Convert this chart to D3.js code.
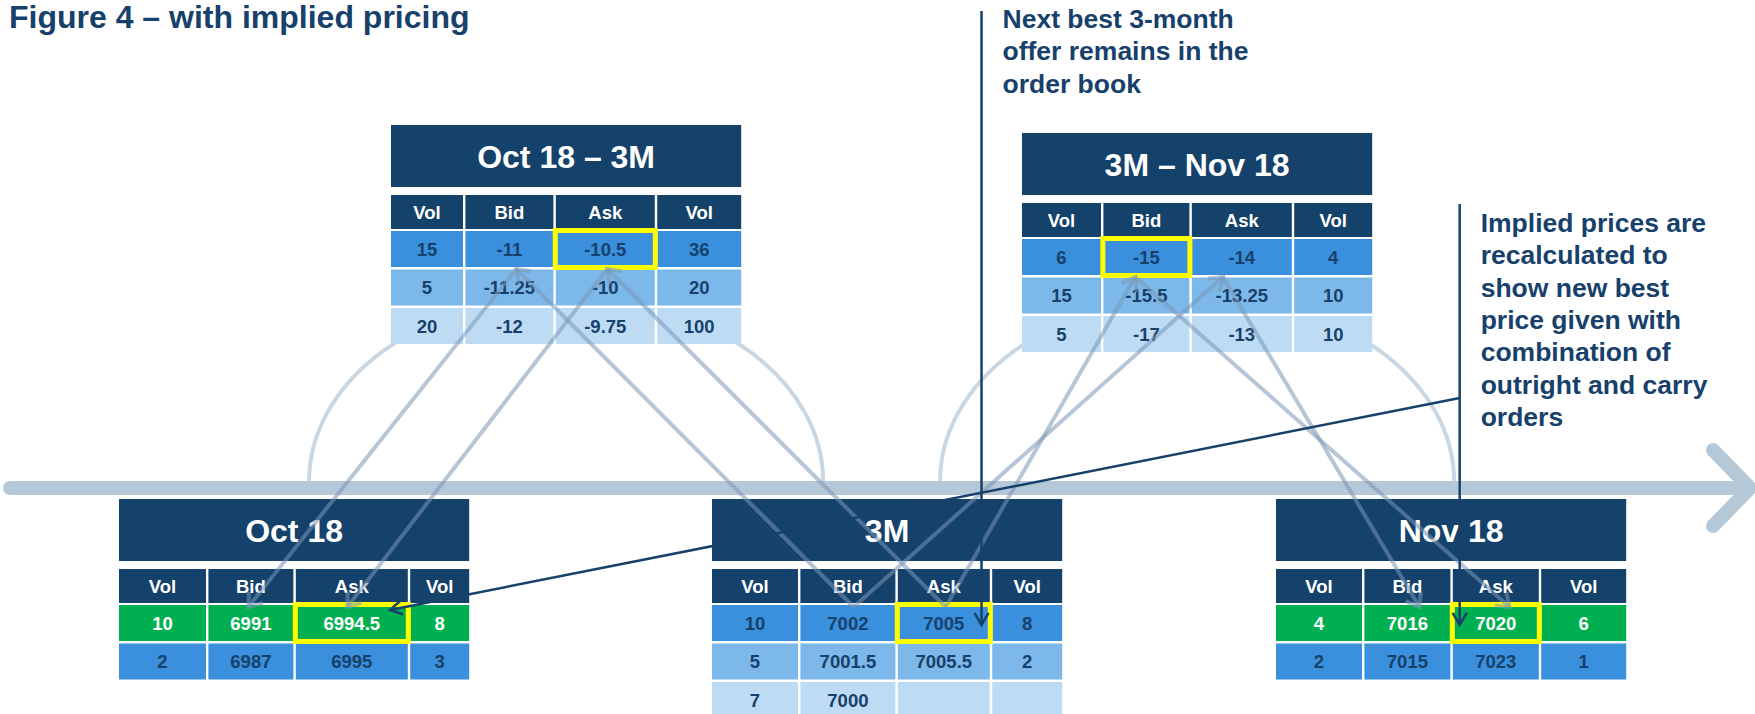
<!DOCTYPE html>
<html>
<head>
<meta charset="utf-8">
<script src="https://cdn.jsdelivr.net/npm/d3@7"></script>
<style>
  body { margin: 0; background: #fff; }
  text { font-family: "Liberation Sans", Arial, sans-serif; font-weight: bold; }
</style>
</head>
<body>
<div id="chart"></div>
<script>
// ---- data ----
const figTitle = "Figure 4 – with implied pricing";
const colLabels = ["Vol", "Bid", "Ask", "Vol"];
const tableNames = ["Oct 18 – 3M", "3M – Nov 18", "Oct 18", "3M", "Nov 18"];

const oct3mRows = [[15, -11, -10.5, 36], [5, -11.25, -10, 20], [20, -12, -9.75, 100]];
const m3novRows = [[6, -15, -14, 4], [15, -15.5, -13.25, 10], [5, -17, -13, 10]];
const oct18Rows = [[10, 6991, 6994.5, 8], [2, 6987, 6995, 3]];
const m3Rows    = [[10, 7002, 7005, 8], [5, 7001.5, 7005.5, 2], [7, 7000, null, null]];
const nov18Rows = [[4, 7016, 7020, 6], [2, 7015, 7023, 1]];

// rows filled by implied prices (green)
const impliedRows = [["Oct 18", 0], ["Nov 18", 0]];
// highlighted cells [table, row, column]
const highlights = [["Oct 18 – 3M", 0, "Ask"], ["3M – Nov 18", 0, "Bid"], ["Oct 18", 0, "Ask"], ["3M", 0, "Ask"], ["Nov 18", 0, "Ask"]];
// implied paths: outright leg -> spread -> implied outright
const impliedLinks = [
  ["3M", "Bid", "Oct 18 – 3M", "Bid", "Oct 18", "Bid"],
  ["3M", "Ask", "Oct 18 – 3M", "Ask", "Oct 18", "Ask"],
  ["3M", "Bid", "3M – Nov 18", "Ask", "Nov 18", "Bid"],
  ["3M", "Ask", "3M – Nov 18", "Bid", "Nov 18", "Ask"]
];
const noteNext = ["Next best 3-month", "offer remains in the", "order book"];
const noteImplied = ["Implied prices are", "recalculated to", "show new best", "price given with", "combination of", "outright and carry", "orders"];

// ---- layout ----
const width = 1755, height = 714;
const navy = "#17416b", headFill = "#15426b";
const blues = ["#3a90dc", "#7db8ea", "#bddcf4"];
const green = "#00b050", yellow = "#ffff00";
const lightLine = "rgb(122,151,181)";
const gap = 2.4;

const layout = {
  "Oct 18 – 3M": { x: 391, y: 125, cols: [72, 88, 99, 84], anchor: { Bid: 0.58, Ask: 0.52 } },
  "3M – Nov 18": { x: 1022, y: 133, cols: [79, 86, 100, 78], anchor: { Bid: 0.37, Ask: 0.31 } },
  "Oct 18":      { x: 119, y: 499, cols: [87, 85, 112, 59], anchor: { Bid: 0.47, Ask: 0.46 } },
  "3M":          { x: 712, y: 499, cols: [86, 95, 92, 70], anchor: { Bid: 0.56, Ask: 0.52 } },
  "Nov 18":      { x: 1276, y: 499, cols: [86, 86, 86, 85], anchor: { Bid: 0.64, Ask: 0.66 } }
};
const rowsByName = { "Oct 18 – 3M": oct3mRows, "3M – Nov 18": m3novRows, "Oct 18": oct18Rows, "3M": m3Rows, "Nov 18": nov18Rows };

const tables = tableNames.map(name => {
  const t = Object.assign({ name: name, rows: rowsByName[name] }, layout[name]);
  let cx = t.x;
  t.colPos = t.cols.map(w => { const p = cx; cx += w + gap; return p; });
  t.w = d3.sum(t.cols) + gap * (t.cols.length - 1);
  t.rowY = d3.scaleLinear().domain([0, 1]).range([t.y + 106, t.y + 144.5]); // row top
  t.spread = name.includes("–");
  return t;
});
const byName = Object.fromEntries(tables.map(t => [t.name, t]));

const svg = d3.select("#chart")
  .append("svg")
  .attr("width", width)
  .attr("height", height)
  .attr("viewBox", [0, 0, width, height]);

// timeline scale
const tx = d3.scaleLinear().domain([0, 1]).range([10, 1750]);
const barY = 488;

// arcs behind spread tables
tables.filter(t => t.spread).forEach(t => {
  const cx = t.x + t.w / 2, rx = 257, ry = 185, cy = barY - 7;
  svg.append("path")
    .attr("d", `M${cx - rx},${cy} A${rx},${ry} 0 0 1 ${cx + rx},${cy}`)
    .attr("fill", "none")
    .attr("stroke", "#c9d7e3")
    .attr("stroke-width", 4);
});

// timeline arrow
svg.append("line")
  .attr("x1", tx(0)).attr("x2", tx(1) - 4)
  .attr("y1", barY).attr("y2", barY)
  .attr("stroke", "#b5c8d8").attr("stroke-width", 14).attr("stroke-linecap", "round");
svg.append("path")
  .attr("d", d3.line()([[tx(1) - 37, barY - 38], [tx(1), barY], [tx(1) - 37, barY + 38]]))
  .attr("fill", "none")
  .attr("stroke", "#b5c8d8").attr("stroke-width", 14)
  .attr("stroke-linecap", "round").attr("stroke-linejoin", "round");

// tables
tables.forEach(t => {
  const g = svg.append("g");
  const bottom = t.rowY(t.rows.length - 1) + 36;
  g.append("rect").attr("x", t.x).attr("y", t.y).attr("width", t.w).attr("height", bottom - t.y).attr("fill", "#fff");
  g.append("rect").attr("x", t.x).attr("y", t.y).attr("width", t.w).attr("height", 62).attr("fill", headFill);
  g.append("text")
    .attr("x", t.x + t.w / 2).attr("y", t.y + 42.5)
    .attr("text-anchor", "middle").attr("fill", "#fff").style("font-size", "32px")
    .text(t.name);

  colLabels.forEach((lab, j) => {
    g.append("rect").attr("x", t.colPos[j]).attr("y", t.y + 70).attr("width", t.cols[j]).attr("height", 34).attr("fill", headFill);
    g.append("text")
      .attr("x", t.colPos[j] + t.cols[j] / 2).attr("y", t.y + 70 + 23.5)
      .attr("text-anchor", "middle").attr("fill", "#fff").style("font-size", "18.5px")
      .text(lab);
  });

  let plain = 0;
  t.rows.forEach((row, i) => {
    const implied = impliedRows.some(r => r[0] === t.name && r[1] === i);
    const fill = implied ? green : blues[plain++];
    row.forEach((v, j) => {
      g.append("rect").attr("x", t.colPos[j]).attr("y", t.rowY(i)).attr("width", t.cols[j]).attr("height", 36).attr("fill", fill);
      g.append("text")
        .attr("x", t.colPos[j] + t.cols[j] / 2).attr("y", t.rowY(i) + 24.5)
        .attr("text-anchor", "middle").attr("fill", implied ? "#fff" : navy).style("font-size", "18.5px")
        .text(v === null ? "" : v);
    });
  });
});

// highlight boxes
highlights.forEach(([name, i, col]) => {
  const t = byName[name], j = colLabels.indexOf(col);
  svg.append("rect")
    .attr("x", t.colPos[j] - 0.5).attr("y", t.rowY(i) - 0.5)
    .attr("width", t.cols[j] + 1).attr("height", 37)
    .attr("fill", "none").attr("stroke", yellow).attr("stroke-width", 5);
});

function chevron(from, tip, len, ang) {
  const a = Math.atan2(tip[1] - from[1], tip[0] - from[0]);
  const p = s => [tip[0] - len * Math.cos(a + s * ang), tip[1] - len * Math.sin(a + s * ang)];
  return d3.line()([p(1), tip, p(-1)]);
}

// anchor of a link in a cell
function anchor(name, col, where) {
  const t = byName[name], j = colLabels.indexOf(col);
  const x = t.colPos[j] + t.anchor[col] * t.cols[j];
  return [x, where === "bottom" ? t.rowY(0) + 38 : t.rowY(0) + 2];
}

// implied price links
impliedLinks.forEach(([lt, lc, st, sc, it, ic]) => {
  const a = anchor(lt, lc, "top"), b = anchor(st, sc, "bottom"), c = anchor(it, ic, "top");
  [[a, b], [b, c]].forEach(([p, q]) => {
    svg.append("line")
      .attr("x1", p[0]).attr("y1", p[1]).attr("x2", q[0]).attr("y2", q[1])
      .attr("stroke", lightLine).attr("stroke-opacity", 0.55).attr("stroke-width", 4);
    svg.append("path")
      .attr("d", chevron(p, q, 15, Math.PI / 5))
      .attr("fill", "none").attr("stroke", lightLine).attr("stroke-opacity", 0.55).attr("stroke-width", 4);
  });
});

// annotations
function note(x, yTop, tip, lines, textY) {
  svg.append("line")
    .attr("x1", x).attr("y1", yTop).attr("x2", tip[0]).attr("y2", tip[1])
    .attr("stroke", navy).attr("stroke-width", 2.5);
  svg.append("path")
    .attr("d", chevron([x, yTop], tip, 14, Math.PI / 6))
    .attr("fill", "none").attr("stroke", navy).attr("stroke-width", 2.5);
  svg.append("text")
    .attr("x", x + 21).attr("y", textY)
    .attr("fill", navy).style("font-size", "26.5px")
    .selectAll("tspan").data(lines).join("tspan")
    .attr("x", x + 21).attr("dy", (d, i) => i === 0 ? 0 : 32.3)
    .text(d => d);
}

const t3m = byName["3M"], tNov = byName["Nov 18"], tOct = byName["Oct 18"];
const askJ = colLabels.indexOf("Ask");
const x1 = t3m.colPos[askJ] + 0.91 * t3m.cols[askJ];
note(x1, 11, [x1, t3m.rowY(0) + 20], noteNext, 28);
const x2 = tNov.colPos[askJ] + 0.08 * tNov.cols[askJ];
note(x2, 204, [x2, tNov.rowY(0) + 20], noteImplied, 232);

// diagonal from implied note to Oct 18 ask
const dFrom = [x2, 398], dTip = [tOct.colPos[askJ] + 0.84 * tOct.cols[askJ], tOct.rowY(0) + 5];
svg.append("line")
  .attr("x1", dFrom[0]).attr("y1", dFrom[1]).attr("x2", dTip[0]).attr("y2", dTip[1])
  .attr("stroke", navy).attr("stroke-width", 2.5);
svg.append("path")
  .attr("d", chevron(dFrom, dTip, 14, Math.PI / 6))
  .attr("fill", "none").attr("stroke", navy).attr("stroke-width", 2.5);

// title
svg.append("text")
  .attr("x", 9).attr("y", 28)
  .attr("fill", navy).style("font-size", "32px")
  .text(figTitle);
</script>
</body>
</html>
